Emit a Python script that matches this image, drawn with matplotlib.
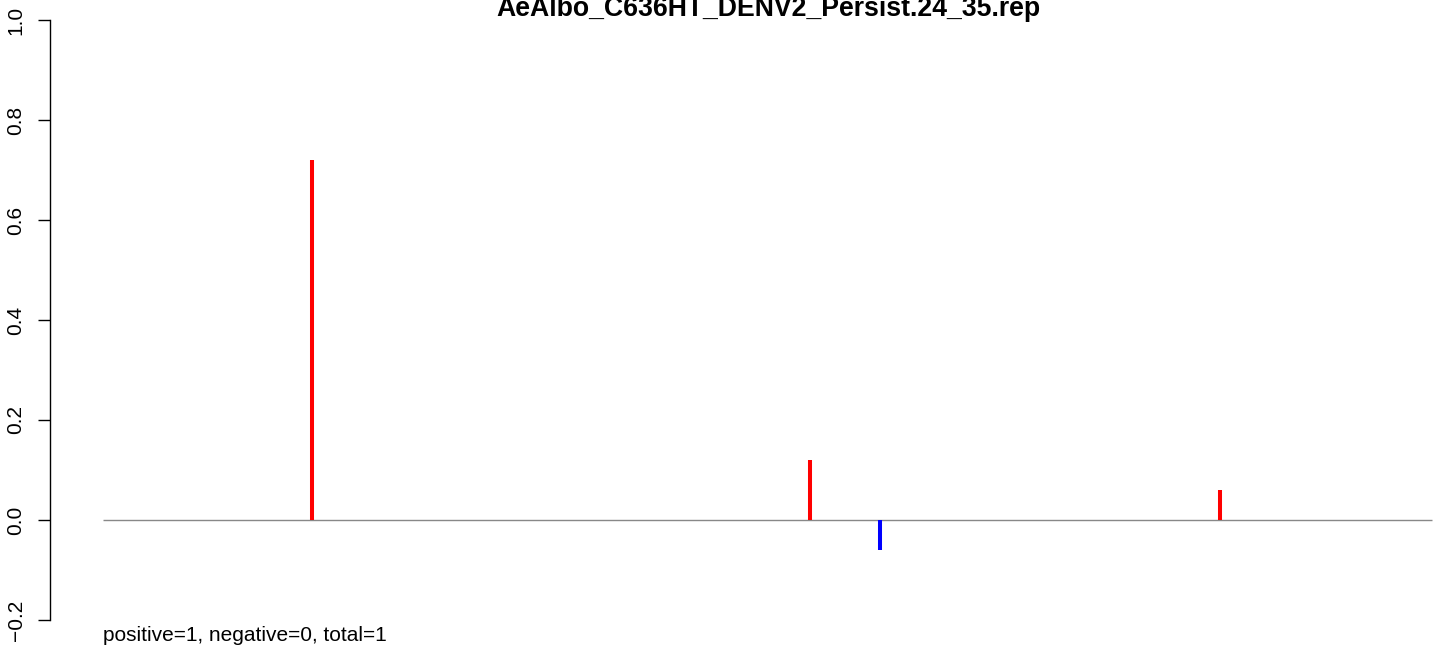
import numpy as np
import matplotlib
matplotlib.use("Agg")
import matplotlib.pyplot as plt

plt.rcParams['font.family'] = ['Liberation Sans', 'DejaVu Sans']

# Data
title = "AeAlbo_C636HT_DENV2_Persist.24_35.rep"
seq_start, seq_end = 1, 10000
positions = [1573, 5319, 5846, 8404]
scores = [0.72, 0.12, -0.06, 0.06]
yticks = [-0.2, 0.0, 0.2, 0.4, 0.6, 0.8, 1.0]
summary = "positive=1, negative=0, total=1"

W, H = 1444, 655
fig = plt.figure(figsize=(W / 100, H / 100), dpi=100)
# plot area: left edge at x=50px, 1.0 at y=20px, -0.2 at y=620px
ax = fig.add_axes([50 / W, 35 / H, (W - 50) / W, 600 / H])
ax.set_ylim(-0.2, 1.0)
# line from seq_start (103px) to seq_end (1432px)
px_per_unit = (1432 - 103) / (seq_end - seq_start)
ax.set_xlim(seq_start - 53 / px_per_unit, seq_start + (W - 50 - 53) / px_per_unit)

ax.hlines(0, seq_start, seq_end, color='#888888', linewidth=1.0)
colors = ['red' if s > 0 else 'blue' for s in scores]
ax.vlines(positions, 0, scores, colors=colors, linewidth=2.9)

for side in ['top', 'right', 'bottom']:
    ax.spines[side].set_visible(False)
ax.spines['left'].set_bounds(-0.2, 1.0)
ax.spines['left'].set_linewidth(1.0)
ax.set_xticks([])
ax.set_yticks(yticks)
ax.set_yticklabels([f"{t:.1f}".replace('-', '\u2212') for t in yticks],
                   rotation=90, va='center', fontsize=15)
ax.tick_params(axis='y', length=8.6, width=1.0, pad=9)
ax.patch.set_visible(False)

fig.text(768 / W, 1 - 16 / H, title, ha='center', va='baseline',
         fontsize=19.2, fontweight='bold')
fig.text(103 / W, 1 - 641 / H, summary, ha='left', va='baseline', fontsize=15)

fig.savefig("out.png", dpi=100)
